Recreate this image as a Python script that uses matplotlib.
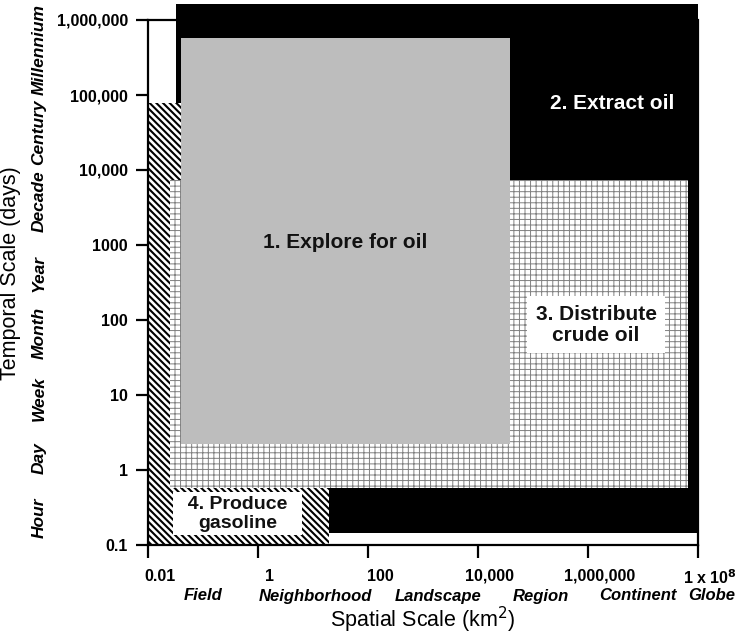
import matplotlib
matplotlib.use("Agg")
import matplotlib.pyplot as plt
import matplotlib.transforms as mtransforms
from matplotlib.patches import Rectangle

plt.rcParams['font.family'] = ['Liberation Sans', 'DejaVu Sans']

# activity extents: (x0, x1) in km^2, (y0, y1) in days
activities = ["1. Explore for oil", "2. Extract oil", "3. Distribute\ncrude oil", "  4. Produce  \ngasoline"]
x_lo = [0.04, 0.032, 0.025, 0.01]
x_hi = [3.8e4, 1e8, 6.6e7, 19.5]
y_lo = [2.2, 0.145, 0.58, 0.1]
y_hi = [5.7e5, 1.63e6, 7300, 7.8e4]
# where each activity name sits
lab_x = [38, 2.8e6, 1.4e6, 0.42]
lab_y = [1070, 7.6e4, 86, 0.26]

x_ticks = [0.01, 1, 100, 1e4, 1e6, 1e8]
x_ticklabels = ["0.01", "1", "100", "10,000", "1,000,000", r"1 x 10$^\mathbf{8}$"]
y_ticks = [0.1, 1, 10, 100, 1000, 1e4, 1e5, 1e6]
y_ticklabels = ["0.1", "1", "10", "100", "1000", "10,000", "100,000", "1,000,000"]

space_names = ["Field", "Neighborhood", "Landscape", "Region", "Continent", "Globe"]
space_pos = [0.1, 11, 1900, 1.4e5, 8e6, 1.8e8]
time_names = ["Hour", "Day", "Week", "Month", "Year", "Decade", "Century", "Millennium"]
time_pos = [0.23, 1.45, 9, 68, 420, 3800, 3.2e4, 4e5]

fig = plt.figure(figsize=(7.41, 6.34), dpi=100)
ax = fig.add_axes([148/741, 1-545/634, 550/741, 525/634])
ax.set_xscale('log')
ax.set_yscale('log')
ax.set_xlim(0.01, 1e8)
ax.set_ylim(0.1, 1e6)

def box(i, **kw):
    r = Rectangle((x_lo[i], y_lo[i]), x_hi[i]-x_lo[i], y_hi[i]-y_lo[i], **kw)
    ax.add_patch(r)
    return r

# extract oil (black, drawn first, pokes above the frame)
box(1, facecolor='black', edgecolor='black', linewidth=0, zorder=2, clip_on=False)
# produce gasoline (diagonal hatch)
plt.rcParams['hatch.linewidth'] = 1.5
box(3, facecolor='white', edgecolor='black', linewidth=0, hatch='\\' * 5, zorder=3)
# distribute crude oil (fine grid)
plt.rcParams['hatch.linewidth'] = 0.7
box(2, facecolor='white', edgecolor='#808080', linewidth=0, hatch='+++', zorder=4)
# explore for oil (gray)
box(0, facecolor='#bdbdbd', edgecolor='none', linewidth=0, zorder=5)

ax.text(lab_x[0], lab_y[0], activities[0], ha='center', va='center',
        fontsize=15, fontweight='bold', color='#111111', zorder=6)
ax.text(lab_x[1], lab_y[1], activities[1], ha='center', va='center',
        fontsize=15, fontweight='bold', color='white', zorder=6)
ax.text(lab_x[2], lab_y[2], activities[2], ha='center', va='center',
        fontsize=15, fontweight='bold', color='#111111', zorder=6, linespacing=1.15,
        bbox=dict(facecolor='white', edgecolor='none', boxstyle='square,pad=0.4'))
ax.text(lab_x[3], lab_y[3], activities[3], ha='center', va='center',
        fontsize=14, fontweight='bold', color='#111111', zorder=6, linespacing=1.1,
        bbox=dict(facecolor='white', edgecolor='none', boxstyle='square,pad=0.2'))

for s in ax.spines.values():
    s.set_linewidth(1.6)
    s.set_zorder(7)
ax.spines['top'].set_visible(False)
ax.plot([0.01, x_lo[1]], [1e6, 1e6], color='black', lw=1.6, zorder=7, clip_on=False)

ax.set_xticks(x_ticks)
ax.set_xticklabels(x_ticklabels)
ax.set_yticks(y_ticks)
ax.set_yticklabels(y_ticklabels)
ax.minorticks_off()
ax.tick_params(axis='both', length=9, width=1.6, labelsize=11.5, direction='out')
ax.tick_params(axis='x', pad=8)
ax.tick_params(axis='y', pad=5.5)
for t in ax.get_xticklabels() + ax.get_yticklabels():
    t.set_fontweight('bold')
shift = mtransforms.ScaledTranslation(12/100, 0, fig.dpi_scale_trans)
for t in ax.get_xticklabels():
    t.set_transform(t.get_transform() + shift)

trans_x = mtransforms.blended_transform_factory(ax.transData, fig.transFigure)
for name, xv in zip(space_names, space_pos):
    ax.text(xv, 1-596/634, name, transform=trans_x, ha='center', va='center',
            fontsize=12, fontweight='bold', fontstyle='italic', clip_on=False)
trans_y = mtransforms.blended_transform_factory(fig.transFigure, ax.transData)
for name, yv in zip(time_names, time_pos):
    ax.text(39/741, yv, name, transform=trans_y, ha='center', va='center', rotation=90,
            fontsize=12.5, fontweight='bold', fontstyle='italic', clip_on=False)

fig.text(423/741, 1-620/634, "Spatial Scale (km$^2$)", ha='center', va='center', fontsize=15.5)
fig.text(11/741, 1-273/634, "Temporal Scale (days)", ha='center', va='center',
         rotation=90, fontsize=15.5)

fig.savefig("out.png", dpi=100)
